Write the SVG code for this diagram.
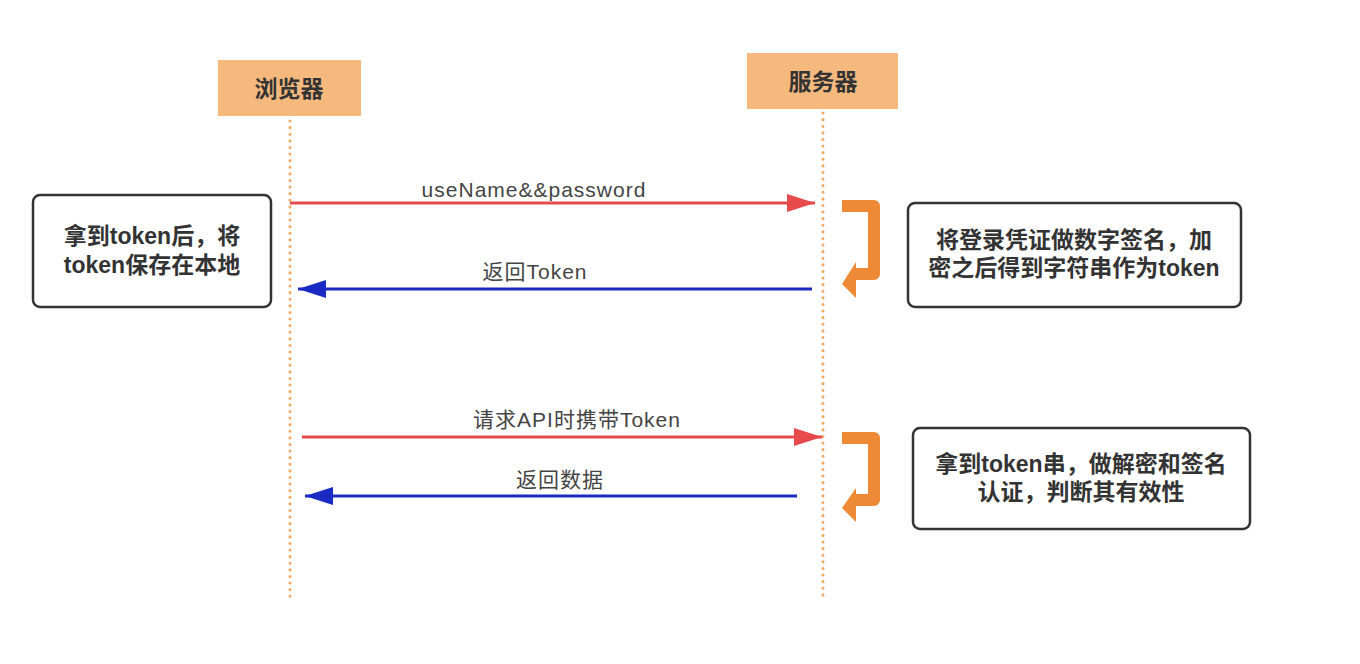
<svg xmlns="http://www.w3.org/2000/svg" width="1360" height="664" viewBox="0 0 1360 664">
<style>
.hdr{fill:#F5B97D}
.hdrt{font-family:"Liberation Sans","Noto Sans CJK SC",sans-serif;font-size:23px;font-weight:bold;fill:#333;text-anchor:middle}
.life{stroke:#F2A865;stroke-width:3;stroke-dasharray:0.1 6.5;stroke-linecap:round;fill:none}
.box{fill:#fff;stroke:#333;stroke-width:2.5}
.bt{font-family:"Liberation Sans","Noto Sans CJK SC",sans-serif;font-size:23px;font-weight:bold;fill:#333;text-anchor:middle}
.lbl{font-family:"Liberation Sans","Noto Sans CJK SC",sans-serif;font-size:21px;letter-spacing:1px;fill:#444;text-anchor:middle}
.red{stroke:#E64A4A;stroke-width:3;fill:none}
.blue{stroke:#1A2BC4;stroke-width:3;fill:none}
.hook{stroke:#EE8A35;stroke-width:12;fill:none;stroke-linejoin:round}
.hookh{fill:#EE8A35}
</style>
<defs>
<marker id="ar" markerUnits="userSpaceOnUse" markerWidth="30" markerHeight="20" refX="28" refY="9" orient="auto">
<path d="M0,0 L28,9 L0,18 Z" fill="#E64A4A"/>
</marker>
<marker id="ab" markerUnits="userSpaceOnUse" markerWidth="30" markerHeight="20" refX="28" refY="9" orient="auto">
<path d="M0,0 L28,9 L0,18 Z" fill="#1A2BC4"/>
</marker>
</defs>
<rect width="1360" height="664" fill="#fff"/>
<g id="lifelines">
<line class="life" x1="290" y1="121" x2="290" y2="602"/>
<line class="life" x1="823" y1="113" x2="823" y2="596"/>
</g>
<g id="browser">
<rect class="hdr" x="218" y="60" width="143" height="56"/>
<text class="hdrt" x="289" y="97">浏览器</text>
</g>
<g id="server">
<rect class="hdr" x="747" y="53" width="151" height="56"/>
<text class="hdrt" x="823" y="90">服务器</text>
</g>
<g id="connectors">
<line class="red" x1="290" y1="203" x2="815" y2="203" marker-end="url(#ar)"/>
<text class="lbl" x="534" y="197">useName&amp;&amp;password</text>
<line class="blue" x1="812" y1="289" x2="298" y2="289" marker-end="url(#ab)"/>
<text class="lbl" x="535" y="279">返回Token</text>
<line class="red" x1="302" y1="437" x2="822" y2="437" marker-end="url(#ar)"/>
<text class="lbl" x="577" y="427">请求API时携带Token</text>
<line class="blue" x1="797" y1="496" x2="305" y2="496" marker-end="url(#ab)"/>
<text class="lbl" x="560" y="487">返回数据</text>
</g>
<g id="hook1">
<path class="hook" d="M842,206 H874 V274 H854"/>
<path class="hookh" d="M856,262 L856,298 L842,284 Z"/>
</g>
<g id="hook2">
<path class="hook" d="M842,438 H874 V500 H854"/>
<path class="hookh" d="M856,488 L856,522 L842,508 Z"/>
</g>
<g id="note-browser">
<rect class="box" x="33" y="195" width="238" height="112" rx="7"/>
<text class="bt" x="152" y="244">拿到token后，将</text>
<text class="bt" x="152" y="273">token保存在本地</text>
</g>
<g id="note-sign">
<rect class="box" x="908" y="203" width="333" height="104" rx="7"/>
<text class="bt" x="1074" y="248">将登录凭证做数字签名，加</text>
<text class="bt" x="1074" y="276">密之后得到字符串作为token</text>
</g>
<g id="note-verify">
<rect class="box" x="913" y="428" width="337" height="101" rx="7"/>
<text class="bt" x="1081" y="472">拿到token串，做解密和签名</text>
<text class="bt" x="1081" y="500">认证，判断其有效性</text>
</g>
</svg>
